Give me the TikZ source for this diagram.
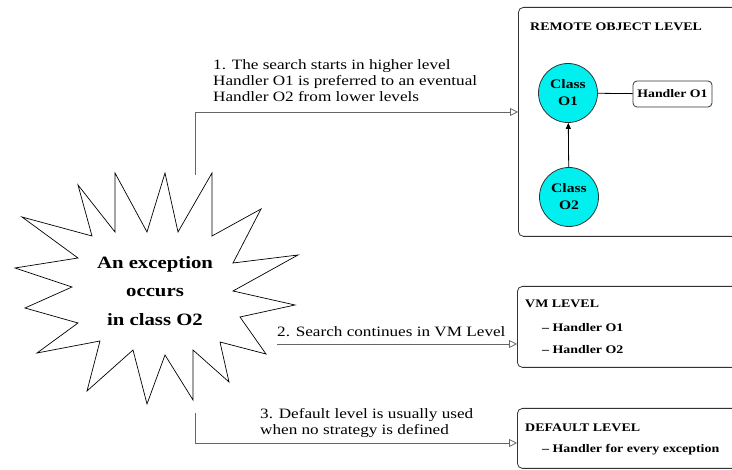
\documentclass[tikz,border=0pt]{standalone}
\usepackage{fontspec}
\setmainfont{Liberation Serif}[FakeStretch=1.2]
\usetikzlibrary{arrows.meta}
\definecolor{classcyan}{RGB}{0,240,240}

\begin{document}
\begin{tikzpicture}
	[
		x=1pt, y=-1pt,
		level/.style={draw=black!80, rounded corners=5pt, line width=0.8pt, anchor=north west, inner sep=0pt},
		title/.style={anchor=base west, inner sep=0pt, font=\fontsize{11.6}{14}\selectfont\bfseries},
		class/.style={circle, draw=black!80, fill=classcyan, line width=0.8pt, minimum size=59pt, inner sep=0pt, align=center, font=\fontsize{13}{17}\selectfont\bfseries},
		handler/.style={draw=black!80, rounded corners=4pt, line width=0.8pt, minimum width=79pt, minimum height=26pt, inner sep=2pt, font=\fontsize{11.5}{14}\selectfont\bfseries},
		note/.style={anchor=base west, inner sep=0pt, align=left, font=\fontsize{14.3}{16}\selectfont},
		search/.style={draw=black!60, line width=0.8pt, -{Triangle[open, length=8pt, width=8pt]}}
	]

	\useasboundingbox (0, 0) rectangle (732, 470);
	\clip (0, 0) rectangle (732, 470);

	% the exception
	\draw [line width=0.7pt] (22, 217) -- (92, 236) -- (78, 185) -- (115, 232)
		-- (115, 173) -- (147, 232) -- (165, 173) -- (178, 232) -- (212, 173)
		-- (212, 236) -- (261, 209) -- (233, 263) -- (298, 255) -- (233, 291)
		-- (295, 305) -- (240, 317) -- (266, 354) -- (220, 342) -- (229, 382)
		-- (193, 350) -- (193, 400) -- (165, 355) -- (147, 404) -- (133, 350)
		-- (87, 391) -- (100, 341) -- (37, 353) -- (78, 323) -- (25, 308)
		-- (72, 287) -- (15, 268) -- (78, 258) -- cycle;
	\node (burst) at (155, 291) [align=center, font=\fontsize{17.3}{28.5}\selectfont\bfseries]
		{An exception\\ occurs\\ in class O2};

	% levels
	\node (remote)  at (518, 7)   [level, minimum width=240pt, minimum height=229pt] {};
	\node (vm)      at (517, 286) [level, minimum width=240pt, minimum height=81pt] {};
	\node (default) at (517, 408) [level, minimum width=240pt, minimum height=60pt] {};

	\node (remotetitle)  at (530, 31)  [title] {REMOTE OBJECT LEVEL};
	\node (vmtitle)      at (525, 308) [title] {VM LEVEL};
	\node (vmitem1)      at (542, 332) [title] {-- Handler O1};
	\node (vmitem2)      at (542, 354) [title] {-- Handler O2};
	\node (defaulttitle) at (525, 432) [title] {DEFAULT LEVEL};
	\node (defaultitem)  at (542, 453) [title] {-- Handler for every exception};

	\node (o1) at (568, 93)  [class] {Class\\ O1};
	\node (o2) at (569, 197) [class] {Class\\ O2};
	\node (h1) at (672.5, 94) [handler] {Handler O1};

	\draw [line width=0.8pt, -{Triangle[length=6pt, width=5pt]}] (o2) -- (o1);
	\draw [line width=0.8pt] (o1) -- (h1);

	% searches
	\coordinate (from1) at (195, 175);
	\coordinate (to1)   at (518, 112);
	\coordinate (from2) at (277, 344);
	\coordinate (to2)   at (517, 344);
	\coordinate (from3) at (195, 413);
	\coordinate (to3)   at (517, 443);

	\draw [search] (from1) |- (to1);
	\draw [search] (from2) -- (to2);
	\draw [search] (from3) |- (to3);

	% base of a note is its last line
	\node (note1) at (213, 102) [note]
		{1. The search starts in higher level\\
		 Handler O1 is preferred to an eventual\\
		 Handler O2 from lower levels};
	\node (note2) at (277, 337) [note] {2. Search continues in VM Level};
	\node (note3) at (260, 435) [note]
		{3. Default level is usually used\\
		 when no strategy is defined};
\end{tikzpicture}
\end{document}
